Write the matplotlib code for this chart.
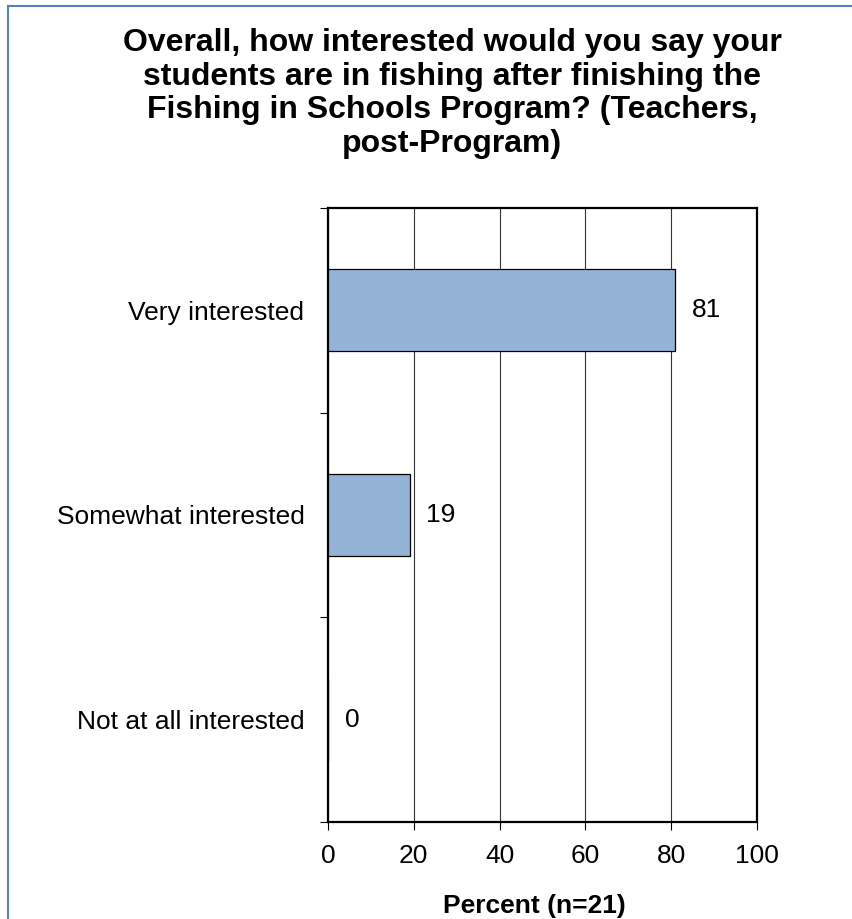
import numpy as np
import matplotlib
matplotlib.use("Agg")
import matplotlib.pyplot as plt
from matplotlib.lines import Line2D

categories = ["Very interested", "Somewhat interested", "Not at all interested"]
values = [81, 19, 0]
xticks = [0, 20, 40, 60, 80, 100]

title = ("Overall, how interested would you say your\n"
         "students are in fishing after finishing the\n"
         "Fishing in Schools Program? (Teachers,\n"
         "post-Program)")
xlabel = "Percent (n=21)"

plt.rcParams["font.family"] = ["Liberation Sans", "DejaVu Sans"]

W, H = 852, 919
fig = plt.figure(figsize=(W / 100, H / 100), dpi=100)

# axes placement in pixels
left, right, top, bottom = 328, 757, 208, 822
ax = fig.add_axes([left / W, 1 - bottom / H, (right - left) / W, (bottom - top) / H])

ypos = np.arange(len(categories))[::-1]
ax.barh(ypos, values, height=0.4, color="#95B3D7", edgecolor="black",
        linewidth=0.9, zorder=3)

for y, v in zip(ypos, values):
    ax.annotate(f"{v}", xy=(v, y), xytext=(12, 0), textcoords="offset points",
                ha="left", va="center", fontsize=19, zorder=4)

ax.set_xlim(0, 100)
ax.set_ylim(-0.5, len(categories) - 0.5)
ax.set_xticks(xticks)
ax.set_xticklabels([str(t) for t in xticks], fontsize=19)
ax.tick_params(axis="x", length=6, width=0.8, pad=10, direction="out")

# category boundaries as ticks, labels at centers
ax.set_yticks(np.arange(-0.5, len(categories), 1.0))
ax.set_yticklabels([])
ax.set_yticks(ypos, minor=True)
ax.set_yticklabels(categories, minor=True, fontsize=19)
ax.tick_params(axis="y", which="major", length=6, width=0.8, direction="out")
ax.tick_params(axis="y", which="minor", length=0, pad=17)

ax.grid(axis="x", color="#333333", linewidth=0.8, zorder=0)
for s in ax.spines.values():
    s.set_linewidth(1.6)
    s.set_color("black")

fig.text(452 / W, 1 - 28 / H, title, ha="center", va="top", fontsize=23,
         fontweight="bold", linespacing=1.16)
fig.text(534 / W, 1 - 894 / H, xlabel, ha="center", va="top", fontsize=19,
         fontweight="bold")

# page border (left and top)
border = "#5B7FB4"
fig.add_artist(Line2D([7.5 / W, 7.5 / W], [0, 1 - 6 / H], color=border, lw=1.5,
                      transform=fig.transFigure))
fig.add_artist(Line2D([7.5 / W, 1], [1 - 6 / H, 1 - 6 / H], color=border, lw=1.5,
                      transform=fig.transFigure))

fig.savefig("out.png", dpi=100)
